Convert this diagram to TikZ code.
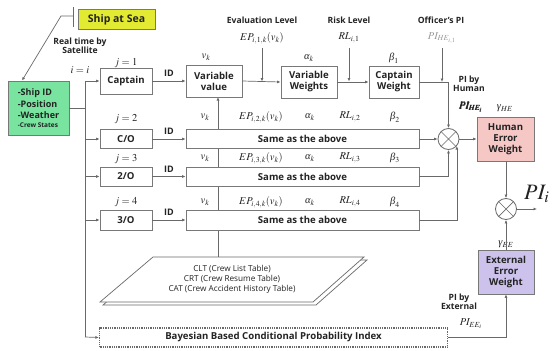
\documentclass[tikz,border=0pt]{standalone}
\usepackage{amsmath}
\usepackage{mathptmx}
\usepackage{fontspec}
\setmainfont{Open Sans}
\newfontfamily\tms{Liberation Serif}
\newcommand{\gal}{\text{\tms\itshape α}}
\newcommand{\gbe}{\text{\tms\itshape β}}
\newcommand{\gga}{\text{\tms\itshape γ}}
\usetikzlibrary{arrows.meta,calc}
\definecolor{ln}{RGB}{105,105,105}
\definecolor{bc}{RGB}{120,120,120}
\definecolor{tx}{RGB}{35,35,35}
\definecolor{yel}{RGB}{226,234,50}
\definecolor{grn}{RGB}{120,228,160}
\definecolor{pnk}{RGB}{245,200,198}
\definecolor{lav}{RGB}{204,194,236}
\tikzset{
  bx/.style={draw=bc, line width=0.8pt, fill=white, align=center, text=tx,
    font=\bfseries\fontsize{9.6}{11}\selectfont, inner sep=0pt},
  arr/.style={draw=ln, line width=0.7pt, -{Latex[length=3.5pt,width=3pt]}},
  wire/.style={draw=ln, line width=0.7pt},
  lbl/.style={font=\bfseries\fontsize{8.6}{9.5}\selectfont, align=center, text=tx, inner sep=0pt},
  mth/.style={font=\fontsize{10.5}{12}\selectfont, text=tx, inner sep=0pt},
  mul/.style={circle, draw=ln, line width=0.8pt, fill=white, minimum size=21pt, inner sep=0pt,
    path picture={\draw[ln, line width=0.7pt]
      (path picture bounding box.north west) -- (path picture bounding box.south east)
      (path picture bounding box.north east) -- (path picture bounding box.south west);}}
}
\begin{document}
\begin{tikzpicture}[x=1pt,y=-1pt]
\useasboundingbox[fill=white] (0,0) rectangle (555,351);

% --- top-left: ship at sea ---
\node[bx, fill=yel, draw=bc, minimum width=77, minimum height=20, font=\bfseries\fontsize{10.5}{12}\selectfont] (sea) at (116.5,19.5) {Ship at Sea};
\coordinate (tk) at (73,16);
\coordinate (bend) at (61,16);
\draw[wire] (73,7) -- (73,27);
\node[bx, fill=grn, minimum width=61, minimum height=54, align=left,
      font=\bfseries\fontsize{9}{11.5}\selectfont] (ship) at (38.5,108)
  {-Ship ID\\-Position\\-Weather\\[-3pt]{\fontsize{6.5}{7}\selectfont -Crew States}};
\draw[arr] (tk) -- (bend) -- (ship.north -| 22,0);
\node[lbl] (rt) at (80,46) {Real time by\\Satellite};
\node[mth] (ii) at (80,70) {$i=i$};

% --- left boxes ---
\node[bx, minimum width=52, minimum height=26] (cap) at (126,81) {Captain};
\node[bx, minimum width=52, minimum height=19] (co) at (126,139) {C/O};
\node[bx, minimum width=52, minimum height=19] (so) at (126,176.5) {2/O};
\node[bx, minimum width=52, minimum height=20] (to) at (126,220) {3/O};
\node[mth] at (126,63) {$j=1$};
\node[mth] at (126,119) {$j=2$};
\node[mth] at (126,159) {$j=3$};
\node[mth] at (126,202) {$j=4$};

% --- table ---
\coordinate (tt) at (218,257);
\draw[arr] (tt) -- (tt |- 0,97);
\filldraw[wire, fill=white] (156,260) -- (367,260) -- (316,305) -- (103,305) -- cycle;
\filldraw[wire, fill=white] (153,257) -- (364,257) -- (313,302) -- (100,302) -- cycle;
\node[font=\fontsize{8.2}{10}\selectfont, text=tx, align=center] (tab) at (232,279)
  {CLT (Crew List Table)\\CRT (Crew Resume Table)\\CAT (Crew Accident History Table)};

% --- row 1 ---
\node[bx, minimum width=56, minimum height=32] (vv) at (214,81) {Variable\\value};
\node[bx, minimum width=56, minimum height=32] (vw) at (309,82) {Variable\\Weights};
\node[bx, minimum width=50, minimum height=32] (cw) at (394,82) {Captain\\Weight};
\node[mth] at (206,57) {$v_k$};
\node[mth] at (309,58) {$\gal_k$};
\node[mth] at (394,58) {$\gbe_1$};
\node[lbl] (evl) at (262,20) {Evaluation Level};
\node[lbl] (rkl) at (349,20) {Risk Level};
\node[lbl] (opi) at (441,20) {Officer's PI};
\node[mth] (ep1) at (262,38) {$EP_{i,1,k}(v_k)$};
\node[mth] (rl1) at (349,38) {$RL_{i,1}$};
\node[mth, text=gray!80] (pio) at (442,38) {$PI_{HE_{i,1}}$};

% --- rows 2-4 ---
\node[bx, minimum width=233, minimum height=19] (s2) at (302.5,139) {Same as the above};
\node[bx, minimum width=233, minimum height=19] (s3) at (302.5,176.5) {Same as the above};
\node[bx, minimum width=233, minimum height=20] (s4) at (302.5,220) {Same as the above};
\foreach \r/\y in {2/117,3/158,4/202}{
  \node[mth] at (205,\y) {$v_k$};
  \node[mth] at (261,\y) {$EP_{i,\r,k}(v_k)$};
  \node[mth] at (310,\y) {$\gal_k$};
  \node[mth] at (350,\y) {$RL_{i,\r}$};
  \node[mth] at (395,\y) {$\gbe_\r$};
}

% --- bus ---
\coordinate (bt) at (85,81);
\coordinate (bb) at (85,337);
\draw[wire] (bt) -- (bb);
\draw[wire] (ship.east |- 0,108) -- (bt |- 0,108);
\foreach \n in {cap,co,so,to}{\draw[arr] (bt |- \n.west) -- (\n.west);}

% --- ID arrows ---
\draw[arr] (cap.east) -- node[lbl, above=4pt, font=\bfseries\fontsize{9}{10}\selectfont]{ID} (vv.west |- cap.east);
\draw[arr] (co.east) -- node[lbl, above=4pt, font=\bfseries\fontsize{9}{10}\selectfont]{ID} (s2.west);
\draw[arr] (so.east) -- node[lbl, above=4pt, font=\bfseries\fontsize{9}{10}\selectfont]{ID} (s3.west);
\draw[arr] (to.east) -- node[lbl, above=4pt, font=\bfseries\fontsize{9}{10}\selectfont]{ID} (s4.west);

% --- row 1 chain ---
\draw[arr] (vv.east) -- (vw.west);
\draw[arr] (vw.east) -- (cw.west);
\draw[arr] (ep1.south |- 0,48) -- (ep1.south |- 0,81.5);
\draw[arr] (rl1.south |- 0,48) -- (rl1.south |- 0,81.5);

% --- human multiplier ---
\node[mul] (c1) at (448.5,139) {};
\draw[arr] (cw.east) -| (c1.north);
\draw[arr] (pio.south |- 0,48) -- (pio.south |- 0,82);
\draw[arr] (s2.east) -- (c1.west);
\draw[arr] (s3.east) -| (c1.south);
\draw[arr] (s4.east) -| (c1.-40);
\node[lbl] (pbh) at (469,84) {PI by\\Human};
\node[mth] (pihe) at (471,107) {$\pmb{PI_{HE_i}}$};

\node[bx, fill=pnk, draw=bc, minimum width=57, minimum height=44] (hew) at (505.5,139) {Human\\Error\\Weight};
\node[mth] at (505,108) {$\gga_{HE}$};
\draw[arr] (c1.east) -- (hew.west);

% --- final multiplier ---
\node[mul] (c2) at (506,209) {};
\draw[arr] (hew.south -| c2.north) -- (c2.north);
\coordinate (out) at (537,209);
\draw[arr] (c2.east) -- (out);
\node[font=\fontsize{22}{24}\selectfont, text=tx, anchor=west, inner sep=0pt] (pii) at (524,194) {$PI_i$};

\node[bx, fill=lav, draw=bc, minimum width=56, minimum height=44] (eew) at (506,272) {External\\Error\\Weight};
\node[mth] at (506,244) {$\gga_{EE}$};
\draw[arr] (eew.north) -- (c2.south);

% --- Bayesian ---
\node[bx, draw=ln, densely dotted, line width=1.2pt, minimum width=348, minimum height=19] (bay) at (273.5,337.5) {Bayesian Based Conditional Probability Index};
\draw[arr] (bb) -- (bay.west);
\draw[arr] (bay.east) -| (eew.south);
\node[lbl] (pbe) at (459,302) {PI by\\External};
\node[mth] (piee) at (471,324) {$PI_{EE_i}$};
\end{tikzpicture}
\end{document}
